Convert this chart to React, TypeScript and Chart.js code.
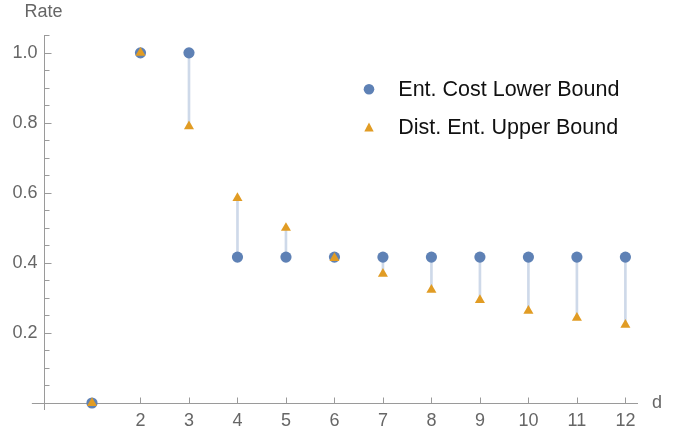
import React, { useEffect, useRef } from 'react';
import { Chart, registerables } from 'chart.js';

Chart.register(...registerables);

// ---- data ----
const dValues = [1, 2, 3, 4, 5, 6, 7, 8, 9, 10, 11, 12];
const lowerBound = [0, 1, 1, 0.4167, 0.4167, 0.4167, 0.4167, 0.4167, 0.4167, 0.4167, 0.4167, 0.4167];
const upperBound = [0, 1, 0.79, 0.585, 0.5, 0.414, 0.369, 0.323, 0.294, 0.263, 0.243, 0.223];
const xTickValues = [2, 3, 4, 5, 6, 7, 8, 9, 10, 11, 12];
const yTickValues = [0.2, 0.4, 0.6, 0.8, 1.0];
const yMinorTickValues = [0, 0.05, 0.1, 0.15, 0.2, 0.25, 0.3, 0.35, 0.4, 0.45, 0.5, 0.55, 0.6, 0.65, 0.7, 0.75, 0.8, 0.85, 0.9, 0.95, 1.0, 1.05];
const seriesNames = ['Ent. Cost Lower Bound', 'Dist. Ent. Upper Bound'];
const xAxisTitle = 'd';
const yAxisTitle = 'Rate';

// ---- style ----
const BLUE = '#5e81b5';
const ORANGE = '#e19c24';
const STEM = 'rgba(94,129,181,0.3)';
const AXIS = '#9a9a9a';
const LABEL = '#666666';
const FONT = "'Liberation Sans', Arial, Helvetica, sans-serif";
const TICK_FONT_SIZE = 18;
const LEGEND_FONT_SIZE = 21.5;

const X_MIN = 0;
const X_MAX = 12.26;
const X_AXIS_START = -0.24;
const Y_MIN = 0;
const Y_MAX = 1.051;
const Y_AXIS_START = -0.02;

const axesPlugin = {
  id: 'mmaAxes',
  beforeDatasetsDraw(chart: any) {
    const { ctx } = chart;
    const xs = chart.scales.x;
    const ys = chart.scales.y;
    const x0 = Math.round(xs.getPixelForValue(0)) + 0.5;
    const y0 = Math.round(ys.getPixelForValue(0)) + 0.5;
    ctx.save();
    ctx.strokeStyle = AXIS;
    ctx.lineWidth = 1;
    ctx.beginPath();
    ctx.moveTo(xs.getPixelForValue(X_AXIS_START), y0);
    ctx.lineTo(xs.getPixelForValue(X_MAX), y0);
    ctx.moveTo(x0, ys.getPixelForValue(Y_AXIS_START));
    ctx.lineTo(x0, ys.getPixelForValue(Y_MAX));
    // x ticks (inward)
    xTickValues.forEach((v) => {
      const px = Math.round(xs.getPixelForValue(v)) + 0.5;
      ctx.moveTo(px, y0);
      ctx.lineTo(px, y0 - 6);
    });
    // y ticks (inward)
    yMinorTickValues.forEach((v) => {
      const py = Math.round(ys.getPixelForValue(v)) + 0.5;
      const major = yTickValues.some((t) => Math.abs(t - v) < 1e-6);
      ctx.moveTo(x0, py);
      ctx.lineTo(x0 + (major ? 7 : 5), py);
    });
    ctx.stroke();
    ctx.restore();
  },
};

export default function App() {
  const canvasRef = useRef<HTMLCanvasElement | null>(null);

  useEffect(() => {
    if (!canvasRef.current) return;
    const chart = new Chart(canvasRef.current, {
      type: 'scatter',
      data: {
        datasets: [
          {
            type: 'scatter',
            label: seriesNames[1],
            data: dValues.map((d, i) => ({ x: d, y: upperBound[i] })),
            pointStyle: 'triangle',
            pointRadius: 5.8,
            backgroundColor: ORANGE,
            borderWidth: 0,
            order: 0,
            clip: false,
          } as any,
          {
            type: 'scatter',
            label: seriesNames[0],
            data: dValues.map((d, i) => ({ x: d, y: lowerBound[i] })),
            pointStyle: 'circle',
            pointRadius: 5.6,
            backgroundColor: BLUE,
            borderWidth: 0,
            order: 1,
            clip: false,
          } as any,
          {
            type: 'bar',
            label: 'stems',
            data: dValues.map((d, i) => ({
              x: d,
              y: [Math.min(lowerBound[i], upperBound[i]), Math.max(lowerBound[i], upperBound[i])],
            })),
            backgroundColor: STEM,
            borderWidth: 0,
            barThickness: 2,
            order: 2,
            clip: false,
          } as any,
        ],
      },
      options: {
        animation: false,
        responsive: false,
        devicePixelRatio: 1,
        layout: { padding: { top: 35, right: 50, left: 0, bottom: 0 } },
        plugins: {
          legend: { display: false },
          tooltip: { enabled: false },
        },
        scales: {
          x: {
            type: 'linear',
            min: X_MIN,
            max: X_MAX,
            offset: false,
            grid: { display: false, drawTicks: false },
            border: { display: false },
            afterBuildTicks: (s: any) => {
              s.ticks = xTickValues.map((v) => ({ value: v }));
            },
            afterFit: (s: any) => {
              s.height = 30;
            },
            ticks: {
              autoSkip: false,
              maxRotation: 0,
              padding: 7,
              color: LABEL,
              font: { family: FONT, size: TICK_FONT_SIZE },
              callback: (v: any) => String(v),
            },
          },
          y: {
            type: 'linear',
            min: Y_MIN,
            max: Y_MAX,
            grid: { display: false, drawTicks: false },
            border: { display: false },
            afterBuildTicks: (s: any) => {
              s.ticks = yTickValues.map((v) => ({ value: v }));
            },
            afterFit: (s: any) => {
              s.width = 43.5;
            },
            ticks: {
              autoSkip: false,
              padding: 6,
              color: LABEL,
              font: { family: FONT, size: TICK_FONT_SIZE },
              callback: (v: any) => Number(v).toFixed(1),
            },
          },
        },
      } as any,
      plugins: [axesPlugin],
    });
    return () => chart.destroy();
  }, []);

  const textBase: React.CSSProperties = {
    position: 'absolute',
    fontFamily: FONT,
    whiteSpace: 'nowrap',
    margin: 0,
  };

  return (
    <div style={{ position: 'absolute', left: 0, top: 0, width: 688, height: 433, background: '#fff', overflow: 'hidden' }}>
      <canvas ref={canvasRef} width={688} height={433} style={{ position: 'absolute', left: 0, top: 0, width: 688, height: 433 }} />
      <div style={{ ...textBase, left: 24.6, top: 1.8, fontSize: TICK_FONT_SIZE, lineHeight: `${TICK_FONT_SIZE}px`, color: LABEL }}>{yAxisTitle}</div>
      <div style={{ ...textBase, left: 652, top: 392.5, fontSize: TICK_FONT_SIZE, lineHeight: `${TICK_FONT_SIZE}px`, color: LABEL }}>{xAxisTitle}</div>
      <svg width={20} height={60} style={{ position: 'absolute', left: 358.8, top: 80 }}>
        <circle cx={10} cy={9.3} r={5.3} fill={BLUE} />
        <polygon points="10,42.5 14.7,51.5 5.3,51.5" fill={ORANGE} />
      </svg>
      <div style={{ ...textBase, left: 398.3, top: 79.0, fontSize: LEGEND_FONT_SIZE, lineHeight: `${LEGEND_FONT_SIZE}px`, color: '#111' }}>{seriesNames[0]}</div>
      <div style={{ ...textBase, left: 398.3, top: 117.0, fontSize: LEGEND_FONT_SIZE, lineHeight: `${LEGEND_FONT_SIZE}px`, color: '#111' }}>{seriesNames[1]}</div>
    </div>
  );
}
